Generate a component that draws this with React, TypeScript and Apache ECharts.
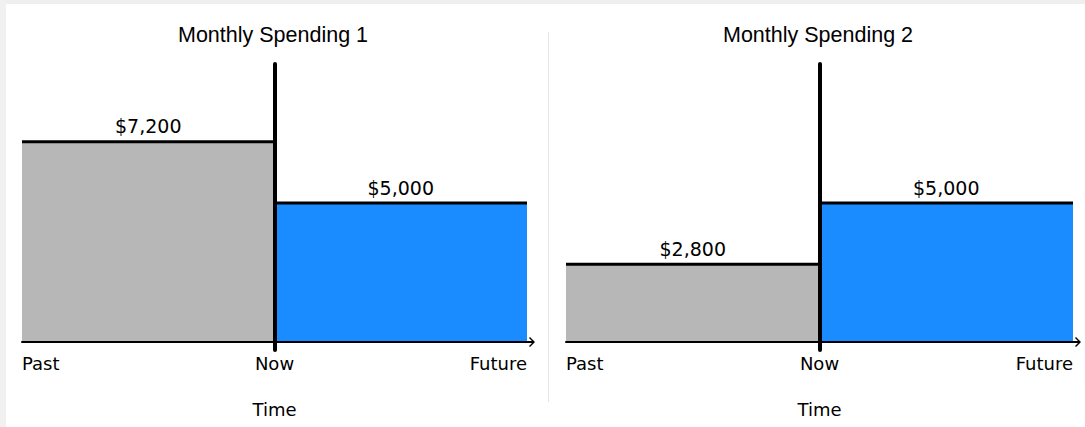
import React, { useEffect, useRef } from "react";
import * as echarts from "echarts";

const TITLES = ["Monthly Spending 1", "Monthly Spending 2"];
const TICK_LABELS = ["Past", "Now", "Future"];
const PAST_SPENDING = [7200, 2800];
const FUTURE_SPENDING = [5000, 5000];
const AXIS_NAME = "Time";
const Y_MAX = 10000;

const FILLS = ["#b7b7b7", "#1a8cff"];
const LABEL_FONT = "DejaVu Sans";
const TITLE_FONT = "Liberation Sans";
const GRIDS = [
  { left: 22, right: 558, top: 64, bottom: 85 },
  { left: 566, right: 12, top: 64, bottom: 85 },
];
const TITLE_X = [273, 818];
const ARROW = "path://M5,0 L10,5 L9,6 L6,3 L6,16 L4,16 L4,3 L1,6 L0,5 Z";

const fmt = (v: number) => "$" + v.toLocaleString("en-US");

export default function App() {
  const ref = useRef<HTMLDivElement>(null);
  useEffect(() => {
    if (!ref.current) return;
    const chart = echarts.init(ref.current, null, { renderer: "svg" });

    const spendRender = (params: any, api: any) => {
      const x0 = api.value(0);
      const x1 = api.value(1);
      const v = api.value(2);
      const tl = api.coord([x0, v]);
      const br = api.coord([x1, 0]);
      return {
        type: "group",
        children: [
          {
            type: "rect",
            shape: { x: tl[0], y: tl[1], width: br[0] - tl[0], height: br[1] - tl[1] },
            style: { fill: FILLS[params.dataIndex] },
          },
          {
            type: "line",
            shape: { x1: tl[0], y1: tl[1], x2: br[0], y2: tl[1] },
            style: { stroke: "#000", lineWidth: 3 },
          },
          {
            type: "text",
            style: {
              text: fmt(v),
              x: (tl[0] + br[0]) / 2,
              y: tl[1] - 6,
              fill: "#000",
              fontSize: 19,
              fontFamily: LABEL_FONT,
              align: "center",
              verticalAlign: "bottom",
            },
          },
        ],
      };
    };

    const nowRender = (params: any, api: any) => {
      const x = api.value(0);
      const bottom = api.coord([x, 0]);
      const top = api.coord([x, Y_MAX]);
      return {
        type: "line",
        shape: { x1: bottom[0] + 0.5, y1: bottom[1] + 8, x2: top[0] + 0.5, y2: top[1] },
        style: { stroke: "#000", lineWidth: 4, lineCap: "round" },
      };
    };

    const xAxes = GRIDS.map((_, i) => ({
      gridIndex: i,
      type: "value",
      min: 0,
      max: 2,
      interval: 1,
      z: 3,
      name: AXIS_NAME,
      nameLocation: "middle",
      nameGap: 58,
      nameTextStyle: { fontSize: 18, fontFamily: LABEL_FONT, color: "#000" },
      axisLine: {
        show: true,
        lineStyle: { color: "#000", width: 2 },
        symbol: ["none", ARROW],
        symbolSize: [10, 16],
      },
      axisTick: { show: false },
      splitLine: { show: false },
      axisLabel: {
        fontSize: 18,
        fontFamily: LABEL_FONT,
        color: "#000",
        margin: 12,
        alignMinLabel: "left",
        alignMaxLabel: "right",
        formatter: (v: number) => TICK_LABELS[Math.round(v)] ?? "",
      },
    }));

    const yAxes = GRIDS.map((_, i) => ({
      gridIndex: i,
      type: "value",
      min: 0,
      max: Y_MAX,
      show: false,
    }));

    const series: any[] = [];
    GRIDS.forEach((_, i) => {
      series.push({
        type: "custom",
        xAxisIndex: i,
        yAxisIndex: i,
        z: 1,
        data: [
          [0, 1, PAST_SPENDING[i]],
          [1, 2, FUTURE_SPENDING[i]],
        ],
        renderItem: spendRender,
      });
      series.push({
        type: "custom",
        xAxisIndex: i,
        yAxisIndex: i,
        z: 5,
        data: [[1]],
        renderItem: nowRender,
      });
    });

    chart.setOption({
      animation: false,
      backgroundColor: "#ffffff",
      grid: GRIDS,
      xAxis: xAxes,
      yAxis: yAxes,
      series,
      graphic: [
        { type: "rect", left: 0, top: 0, shape: { width: 1085, height: 4 }, style: { fill: "#efefef" }, silent: true },
        { type: "rect", left: 0, top: 0, shape: { width: 6, height: 427 }, style: { fill: "#f1f1f1" }, silent: true },
        { type: "line", shape: { x1: 548.5, y1: 32, x2: 548.5, y2: 402 }, style: { stroke: "#e4e4e4", lineWidth: 1 }, silent: true },
        ...TITLES.map((t, i) => ({
          type: "text",
          x: TITLE_X[i],
          y: 35,
          style: {
            text: t,
            fill: "#000",
            fontSize: 21.5,
            fontFamily: TITLE_FONT,
            align: "center",
            verticalAlign: "middle",
          },
        })),
      ],
    });
    return () => chart.dispose();
  }, []);
  return (
    <div
      ref={ref}
      style={{ position: "fixed", left: 0, top: 0, width: 1085, height: 427 }}
    />
  );
}
